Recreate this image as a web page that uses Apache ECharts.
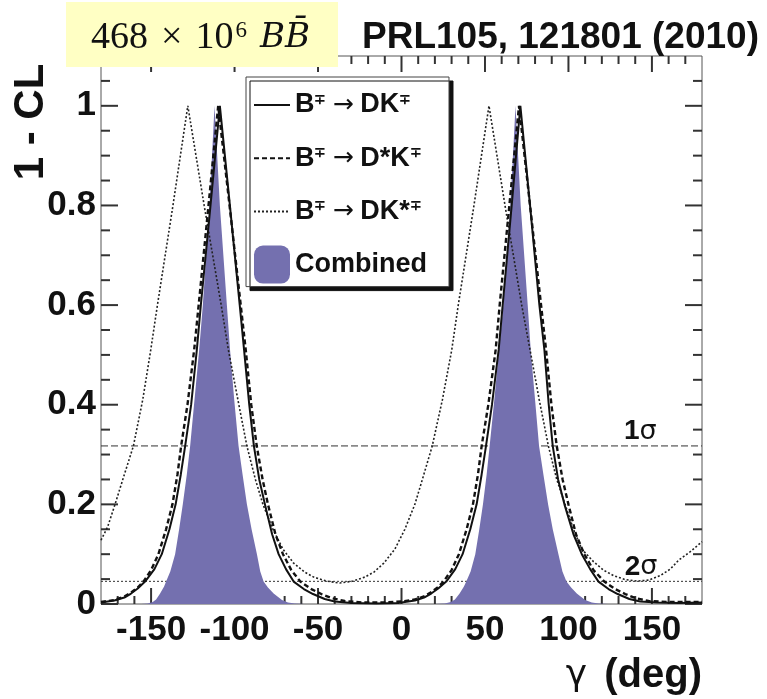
<!DOCTYPE html>
<html>
<head>
<meta charset="utf-8">
<script src="https://cdn.jsdelivr.net/npm/echarts@6/dist/echarts.min.js"></script>
<style>html,body{margin:0;padding:0;background:#fff;}#c{width:767px;height:699px;}</style>
</head>
<body>
<div id="c"></div>
<script>
// ---------- data ----------
const xMajor = [-150, -100, -50, 0, 50, 100, 150];
const xMinor = [-170, -160, -140, -130, -120, -110, -90, -80, -70, -60, -40, -30, -20, -10, 10, 20, 30, 40, 60, 70, 80, 90, 110, 120, 130, 140, 160, 170];
const yMajor = [0, 0.2, 0.4, 0.6, 0.8, 1];
const yMinor = [0.05, 0.1, 0.15, 0.25, 0.3, 0.35, 0.45, 0.5, 0.55, 0.65, 0.7, 0.75, 0.85, 0.9, 0.95, 1.05];

const sigmaLevels = [0.3173, 0.0455];
const sigmaLabels = ['1', '2'];
const sigmaLabelPos = [[143, 0.346], [143.5, 0.074]];

const seriesNames = ['B∓ → DK∓', 'B∓ → D*K∓', 'B∓ → DK*∓', 'Combined'];

// B -> DK (solid)
const dk = [[-180,0.003],[-172,0.007],[-166,0.013],[-162,0.021],[-158,0.031],[-153.6,0.045],[-148,0.07],[-143.6,0.10],[-139,0.15],[-135.3,0.20],[-132.2,0.26],[-129.6,0.317],[-126,0.40],[-122.6,0.51],[-120.2,0.60],[-114.4,0.80],[-108.8,1.0],[-102.8,0.80],[-96.9,0.60],[-94.3,0.51],[-91.2,0.40],[-88.4,0.317],[-85.2,0.25],[-81.8,0.20],[-77.5,0.14],[-73.6,0.10],[-69.2,0.07],[-64.6,0.045],[-58.5,0.03],[-53,0.02],[-46,0.01],[-40,0.005],[-30,0.002],[-15,0.001],[-2,0.002],[8,0.007],[13.5,0.013],[17.8,0.021],[22,0.031],[26.8,0.045],[32.2,0.07],[36.6,0.10],[41.2,0.15],[45,0.20],[48,0.26],[50.6,0.317],[54.2,0.40],[58.2,0.51],[60.6,0.60],[66,0.80],[71.2,1.0],[77,0.80],[82.6,0.60],[85.6,0.51],[88.2,0.40],[90.6,0.317],[93.8,0.25],[97.6,0.20],[103,0.14],[108,0.10],[113,0.07],[118,0.045],[124,0.03],[129.5,0.02],[136.5,0.01],[143,0.005],[153,0.003],[166,0.002],[180,0.003]];

// B -> D*K (dashed)
const dstark = [[-180,0.004],[-172,0.008],[-166,0.015],[-162,0.023],[-158,0.033],[-154.6,0.045],[-150,0.068],[-145.6,0.10],[-141,0.15],[-137.2,0.20],[-134.2,0.26],[-132,0.317],[-128.2,0.40],[-124.2,0.51],[-121.5,0.60],[-115.6,0.80],[-109.8,1.0],[-103,0.80],[-96.3,0.60],[-93.3,0.51],[-90,0.40],[-86.7,0.317],[-83.2,0.25],[-80,0.20],[-75.5,0.14],[-71,0.10],[-66,0.068],[-60.6,0.045],[-54,0.03],[-48,0.02],[-42,0.012],[-34,0.006],[-24,0.003],[-10,0.003],[0,0.005],[8,0.009],[14,0.016],[18,0.024],[22,0.034],[25.2,0.045],[30,0.068],[34.4,0.10],[39,0.15],[42.8,0.20],[45.8,0.26],[48,0.317],[52,0.40],[56.4,0.51],[58.8,0.60],[64.6,0.80],[70.4,1.0],[77,0.80],[83.6,0.60],[86.6,0.51],[89.8,0.40],[93,0.317],[96.5,0.25],[100,0.20],[104.5,0.14],[109.5,0.10],[115,0.068],[121.5,0.045],[128,0.03],[134,0.02],[140,0.012],[148,0.006],[160,0.004],[180,0.004]];

// B -> DK* (dotted)
const dkstar = [[-180,0.128],[-176,0.155],[-171.6,0.20],[-166,0.26],[-160.6,0.317],[-155,0.41],[-150.2,0.51],[-146.2,0.60],[-136.9,0.80],[-128,1.0],[-118.2,0.80],[-108,0.60],[-103.7,0.51],[-98,0.41],[-92.6,0.317],[-87.5,0.25],[-83,0.20],[-77,0.15],[-71,0.11],[-64.6,0.082],[-58,0.064],[-52.6,0.054],[-45,0.046],[-37,0.042],[-29,0.046],[-22,0.054],[-16.5,0.064],[-10.6,0.082],[-4,0.11],[2,0.15],[8,0.20],[12.5,0.25],[18.4,0.317],[24.5,0.41],[30.1,0.51],[34,0.60],[43.4,0.80],[52.4,1.0],[62,0.80],[72,0.60],[77,0.51],[82.5,0.41],[88,0.317],[93,0.25],[98,0.20],[103,0.15],[108,0.11],[115,0.085],[121,0.068],[127,0.057],[134,0.049],[141,0.046],[148,0.048],[155,0.057],[161,0.07],[166,0.088],[173,0.105],[180,0.125]];

// Combined (filled)
const combined = [[-180,0],[-156,0],[-152,0.001],[-149,0.004],[-147,0.009],[-144.6,0.021],[-142.2,0.035],[-141,0.045],[-138.5,0.065],[-135.6,0.10],[-133.2,0.15],[-131,0.20],[-128.6,0.26],[-126.6,0.317],[-124,0.41],[-121.2,0.51],[-119,0.60],[-115,0.80],[-112,1.0],[-108.8,0.80],[-104.6,0.60],[-102.7,0.51],[-100.2,0.41],[-97.6,0.317],[-95.2,0.26],[-92.6,0.20],[-89.8,0.15],[-86.6,0.10],[-84.6,0.065],[-82.6,0.045],[-80,0.033],[-76.6,0.021],[-71.6,0.008],[-68,0.003],[-64,0.001],[-58,0],[20,0],[26,0.001],[29.5,0.004],[32,0.009],[34.8,0.021],[37.4,0.035],[38.8,0.045],[41.4,0.065],[44.2,0.10],[46.6,0.15],[48.8,0.20],[51,0.26],[52.8,0.317],[55.6,0.41],[58.4,0.51],[61,0.60],[65.2,0.80],[68.3,1.0],[71.4,0.80],[75.6,0.60],[77.4,0.51],[80,0.41],[82.4,0.317],[85,0.26],[87.8,0.20],[90.6,0.15],[94,0.10],[96.4,0.065],[98.8,0.045],[101.6,0.033],[105,0.021],[110,0.008],[114,0.003],[118,0.001],[124,0],[180,0]];

// ---------- chart ----------
const FONT = '"Liberation Sans", Arial, Helvetica, sans-serif';
const PURPLE = '#7470AF';
const AX = '#333';
const X_MIN = -180, X_MAX = 180, Y_MIN = 0, Y_MAX = 1.1;
const GRID = {left: 101, right: 65, top: 56, bottom: 95};
const W = 767, H = 699;
const pxX = (X_MAX - X_MIN) / (W - GRID.left - GRID.right);  // data units per pixel (x)
const pxY = (Y_MAX - Y_MIN) / (H - GRID.top - GRID.bottom);  // data units per pixel (y)
const chart = echarts.init(document.getElementById('c'), null, {renderer: 'canvas'});

const legendRich = {
  b: {fontFamily: FONT, fontWeight: 'bold', fontSize: 27, color: '#111', lineHeight: 38},
  s: {fontFamily: FONT, fontWeight: 'bold', fontSize: 14, color: '#111', lineHeight: 14, verticalAlign: 'top', padding: [7, 0, 0, 0]},
  g: {fontFamily: '"DejaVu Sans", sans-serif', fontSize: 20, color: '#111', lineHeight: 38},
  a: {fontFamily: '"DejaVu Sans", sans-serif', fontSize: 25, color: '#111', lineHeight: 38}
};
const legendText = {
  'B∓ → DK∓': '{b|B}{s|∓}{g| }{a|→}{g| }{b|DK}{s|∓}',
  'B∓ → D*K∓': '{b|B}{s|∓}{g| }{a|→}{g| }{b|D*K}{s|∓}',
  'B∓ → DK*∓': '{b|B}{s|∓}{g| }{a|→}{g| }{b|DK*}{s|∓}',
  'Combined': '{b|Combined}'
};

const sigmaSeries = sigmaLevels.map((lv, i) => ({
  type: 'line', name: 'sigma' + i, silent: true, symbol: 'none', z: 1,
  data: [[X_MIN, lv], [X_MAX, lv]],
  lineStyle: {color: '#333', width: 1, type: i === 0 ? [7, 3] : [2, 2]},
  markPoint: {
    symbol: 'rect', symbolSize: 1, itemStyle: {color: 'rgba(0,0,0,0)'},
    data: [{coord: sigmaLabelPos[i], value: sigmaLabels[i]}],
    label: {show: true, position: 'inside', formatter: p => '{d|' + p.value + '}{g|σ}',
      rich: {d: {fontFamily: FONT, fontSize: 28, fontWeight: 'bold', color: '#111'}, g: {fontFamily: '"DejaVu Sans", sans-serif', fontSize: 27, color: '#111'}}}
  }
}));

// tick marks on all four sides, as short segments in data space (one series per tick)
const tickSeries = [];
xMajor.map(v => [v, 16]).concat(xMinor.map(v => [v, 8])).forEach(([v, len]) => {
  tickSeries.push({data: [[v, Y_MIN], [v, Y_MIN + len * pxY]]});
  tickSeries.push({data: [[v, Y_MAX], [v, Y_MAX - len * pxY]]});
});
yMajor.map(v => [v, 17]).concat(yMinor.map(v => [v, 9])).forEach(([v, len]) => {
  tickSeries.push({data: [[X_MIN, v], [X_MIN + len * pxX, v]]});
  tickSeries.push({data: [[X_MAX, v], [X_MAX - len * pxX, v]]});
});
tickSeries.forEach((s, i) => Object.assign(s, {
  type: 'line', name: 'tick' + i, symbol: 'none', silent: true, z: 1,
  lineStyle: {color: AX, width: 2}
}));

const hiddenSymbol = {opacity: 0};

const option = {
  animation: false,
  backgroundColor: '#fff',
  grid: Object.assign({show: true, borderColor: '#555', borderWidth: 1, backgroundColor: 'rgba(0,0,0,0)'}, GRID),
  xAxis: {
    type: 'value', min: X_MIN, max: X_MAX,
    axisLine: {show: false, onZero: false}, splitLine: {show: false}, axisTick: {show: false},
    axisLabel: {show: true, customValues: xMajor, fontFamily: FONT, fontWeight: 'bold', fontSize: 35, color: '#111', margin: 9}
  },
  yAxis: {
    type: 'value', min: Y_MIN, max: Y_MAX,
    axisLine: {show: false, onZero: false}, splitLine: {show: false}, axisTick: {show: false},
    axisLabel: {show: true, customValues: yMajor, fontFamily: FONT, fontWeight: 'bold', fontSize: 35, color: '#111', margin: 5}
  },
  legend: {
    show: true, orient: 'vertical', left: 246, top: 77,
    data: [
      {name: seriesNames[0], itemStyle: hiddenSymbol},
      {name: seriesNames[1], itemStyle: hiddenSymbol},
      {name: seriesNames[2], itemStyle: hiddenSymbol},
      {name: seriesNames[3], icon: 'roundRect', itemStyle: {color: PURPLE}}
    ],
    itemWidth: 36, itemHeight: 38, itemGap: 19,
    padding: [9, 22, 3, 7],
    backgroundColor: '#fff', borderColor: '#444', borderWidth: 1,
    shadowColor: '#111', shadowBlur: 0, shadowOffsetX: 4, shadowOffsetY: 4,
    formatter: n => legendText[n] || n,
    textStyle: {rich: legendRich},
    selectedMode: false
  },
  series: [
    ...sigmaSeries,
    ...tickSeries,
    {type: 'line', name: seriesNames[3], data: combined, symbol: 'none', z: 2, color: PURPLE,
      lineStyle: {width: 0, opacity: 0}, areaStyle: {color: PURPLE, opacity: 1}},
    {type: 'line', name: seriesNames[2], data: dkstar, symbol: 'none', z: 3, color: '#222',
      lineStyle: {color: '#222', width: 1.6, type: [2, 2]}},
    {type: 'line', name: seriesNames[1], data: dstark, symbol: 'none', z: 3, color: '#111',
      lineStyle: {color: '#111', width: 2.4, type: [5, 3]}},
    {type: 'line', name: seriesNames[0], data: dk, symbol: 'none', z: 4, color: '#111',
      lineStyle: {color: '#111', width: 2}}
  ],
  graphic: [
    {type: 'rect', z: 100, shape: {x: 66, y: 2, width: 272, height: 65}, style: {fill: '#FFFFC4'}},
    {type: 'text', z: 101, x: 91, y: 38, style: {
      text: '{n|468}{x|×}{n|10}{p|6}{i|B}{i|B\u0304}', textVerticalAlign: 'middle', textAlign: 'left',
      rich: {
        n: {fontFamily: '"Liberation Serif", "DejaVu Serif", serif', fontSize: 38, fill: '#111'},
        x: {fontFamily: '"Liberation Serif", "DejaVu Serif", serif', fontSize: 38, fill: '#111', padding: [0, 13, 0, 13]},
        p: {fontFamily: '"Liberation Serif", "DejaVu Serif", serif', fontSize: 23, fill: '#111', verticalAlign: 'top', lineHeight: 22, padding: [0, 13, 0, 2]},
        i: {fontFamily: '"DejaVu Serif", "Liberation Serif", serif', fontStyle: 'italic', fontSize: 34, fill: '#111'}
      }}},
    {type: 'text', z: 101, x: 362, y: 38, style: {text: 'PRL105, 121801 (2010)', font: 'bold 37px ' + FONT, fill: '#111', textVerticalAlign: 'middle', textAlign: 'left'}},
    {type: 'text', z: 101, x: 31, y: 122, rotation: Math.PI / 2, style: {text: '1 - CL', font: 'bold 42px ' + FONT, fill: '#111', textVerticalAlign: 'middle', textAlign: 'center'}},
    {type: 'text', z: 101, x: 702, y: 676, style: {
      text: '{g|γ}{t| (deg)}', textAlign: 'right', textVerticalAlign: 'middle',
      rich: {g: {fontFamily: '"DejaVu Sans", sans-serif', fontSize: 36, fill: '#111', padding: [0, 6, 0, 0]}, t: {fontFamily: FONT, fontWeight: 'bold', fontSize: 40, fill: '#111'}}}}
  ]
};
chart.setOption(option);
</script>
</body>
</html>
